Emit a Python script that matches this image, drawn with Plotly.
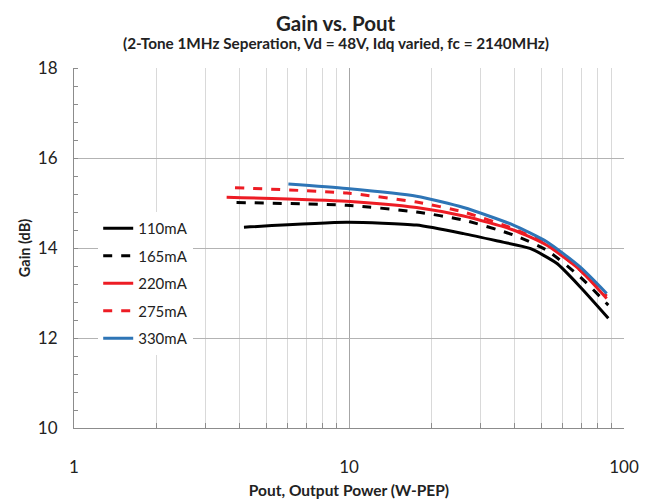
import plotly.graph_objects as go

# ---- data ----
series_names = ["110mA", "165mA", "220mA", "275mA", "330mA"]

pout_110 = [4.15, 9.8, 17.6, 26.1, 34.4, 45.5, 56.9, 69.2, 87.7]
gain_110 = [14.46, 14.57, 14.51, 14.32, 14.16, 13.99, 13.66, 13.14, 12.44]

pout_165 = [3.9, 9.8, 17.6, 26.1, 39.6, 52.4, 69.2, 87.7]
gain_165 = [15.01, 14.95, 14.80, 14.62, 14.29, 13.95, 13.36, 12.73]

pout_220 = [3.59, 9.8, 17.6, 26.1, 39.6, 52.4, 69.2, 86.5]
gain_220 = [15.13, 15.04, 14.90, 14.71, 14.40, 14.06, 13.51, 12.88]

pout_275 = [3.85, 9.8, 17.6, 26.1, 39.6, 52.4, 69.2, 86.5]
gain_275 = [15.34, 15.22, 15.02, 14.80, 14.43, 14.09, 13.51, 12.93]

pout_330 = [6.02, 9.8, 17.6, 26.1, 39.6, 52.4, 69.2, 86.5]
gain_330 = [15.42, 15.32, 15.15, 14.90, 14.51, 14.14, 13.58, 12.99]

x_tickvals = [1, 10, 100]
x_ticktext = ["1", "10", "100"]
x_minor = [2, 3, 4, 5, 6, 7, 8, 9, 20, 30, 40, 50, 60, 70, 80, 90]
y_tickvals = [10, 12, 14, 16, 18]

xs = [pout_110, pout_165, pout_220, pout_275, pout_330]
ys = [gain_110, gain_165, gain_220, gain_275, gain_330]
colors = ["#000000", "#000000", "#ed1c24", "#ed1c24", "#2e75b6"]
dashes = ["solid", "dash", "solid", "dash", "solid"]

FONT = "Lato"
TXT = "#222222"

fig = go.Figure()
for i, name in enumerate(series_names):
    fig.add_trace(go.Scatter(
        x=xs[i], y=ys[i], name=name, mode="lines",
        line=dict(color=colors[i], width=3, dash=dashes[i], shape="spline", smoothing=0.6),
        legendgroup=name,
    ))

# page body has an 8px margin, so the figure is sized to fill the 650x502 window from (8,8)
fig.update_layout(
    width=642, height=494,
    margin=dict(l=66, r=26, t=60, b=74, autoexpand=False),
    paper_bgcolor="white", plot_bgcolor="white",
    font=dict(family=FONT, color=TXT, size=14),
    showlegend=True,
    legend=dict(
        x=0.044, y=0.60, xanchor="left", yanchor="top",
        bgcolor="white", borderwidth=0,
        font=dict(family=FONT, size=15, color=TXT),
        tracegroupgap=5,
    ),
    annotations=[
        dict(text="<b>Gain vs. Pout</b>", xref="paper", yref="paper",
             x=0.476, y=1.0, yshift=59, xanchor="center", yanchor="top",
             showarrow=False, font=dict(family=FONT, size=20.5, color=TXT)),
        dict(text="<b>(2-Tone 1MHz Seperation, Vd = 48V, Idq varied, fc = 2140MHz)</b>",
             xref="paper", yref="paper",
             x=0.476, y=1.0, yshift=25, xanchor="center", yanchor="middle",
             showarrow=False, font=dict(family=FONT, size=15.3, color=TXT)),
    ],
)

fig.update_xaxes(
    type="log", range=[0, 2], automargin=False,
    tickmode="array", tickvals=x_tickvals, ticktext=x_ticktext,
    showgrid=True, gridcolor="#a6a6a6", gridwidth=1,
    ticks="", ticklabelstandoff=24,
    showline=True, linecolor="#8c8c8c", linewidth=1,
    zeroline=False,
    tickfont=dict(family=FONT, size=17, color=TXT),
    minor=dict(tickmode="array", tickvals=x_minor, showgrid=True,
               gridcolor="#d9d9d9", gridwidth=1,
               ticks="inside", ticklen=5, tickcolor="#8c8c8c"),
    title=dict(text="<b>Pout, Output Power (W-PEP)</b>", standoff=8,
               font=dict(family=FONT, size=15.5, color=TXT)),
)

fig.update_yaxes(
    range=[10, 18], automargin=False,
    tickmode="array", tickvals=y_tickvals,
    showgrid=True, gridcolor="#b3b3b3", gridwidth=1,
    ticks="", ticklabelstandoff=12,
    showline=True, linecolor="#8c8c8c", linewidth=1,
    zeroline=False,
    tickfont=dict(family=FONT, size=17, color=TXT),
    minor=dict(dtick=0.4, tick0=10, ticks="inside", ticklen=4,
               tickcolor="#8c8c8c", showgrid=False),
    title=dict(text="<b>Gain (dB)</b>", standoff=3,
               font=dict(family=FONT, size=14.5, color=TXT)),
)

fig.write_html("out.html")
